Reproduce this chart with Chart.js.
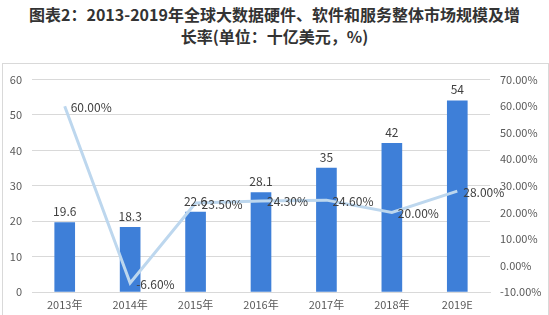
<!DOCTYPE html>
<html>
<head>
<meta charset="utf-8">
<script src="https://cdn.jsdelivr.net/npm/chart.js@4"></script>
<style>
  html, body { margin: 0; padding: 0; background: #fff; }
  #wrap { width: 549px; height: 315px; position: relative; overflow: hidden; }
  #title {
    position: absolute; left: 0; top: 3px; width: 549px; text-align: center;
    font-family: "Noto Sans CJK SC", sans-serif; font-weight: bold; font-size: 16px;
    line-height: 22px; color: #333;
  }
  #box { position: absolute; left: 2px; top: 63px; width: 545px; height: 260px; border: 1px solid #d9d9d9; }
  #cv { position: absolute; left: 0; top: 63px; }
</style>
</head>
<body>
<div id="wrap">
  <div id="title">图表2：2013-2019年全球大数据硬件、软件和服务整体市场规模及增<br>长率(单位：十亿美元，%)</div>
  <div id="box"></div>
  <canvas id="cv" width="549" height="252"></canvas>
</div>
<script>
// 数据
const years = ['2013年', '2014年', '2015年', '2016年', '2017年', '2018年', '2019E'];
const marketSize = [19.6, 18.3, 22.6, 28.1, 35, 42, 54];
const growthRate = [60.0, -6.6, 23.5, 24.3, 24.6, 20.0, 28.0];

const fontFamily = '"Noto Sans CJK SC", "Microsoft YaHei", sans-serif';
const textColor = '#404040';

// label di atas bar / kanan titik garis
const labelPlugin = {
    id: 'valueLabels',
    afterDatasetsDraw(chart) {
        const ctx = chart.ctx;
        ctx.save();
        ctx.font = '12px ' + fontFamily;
        ctx.fillStyle = textColor;
        chart.getDatasetMeta(0).data.forEach((bar, i) => {
            ctx.textAlign = 'center';
            ctx.textBaseline = 'bottom';
            ctx.fillText(String(marketSize[i]), bar.x, bar.y - 5);
        });
        chart.getDatasetMeta(1).data.forEach((pt, i) => {
            ctx.textAlign = 'left';
            ctx.textBaseline = 'middle';
            ctx.fillText(growthRate[i].toFixed(2) + '%', pt.x + 6, pt.y + 1);
        });
        ctx.restore();
    }
};

new Chart(document.getElementById('cv'), {
    data: {
        labels: years,
        datasets: [
            {
                type: 'line',
                data: growthRate,
                yAxisID: 'y1',
                borderColor: '#bdd7ee',
                borderWidth: 3,
                pointRadius: 0,
                tension: 0,
                order: 0
            },
            {
                type: 'bar',
                data: marketSize,
                yAxisID: 'y',
                backgroundColor: '#3e7fd8',
                barThickness: 20,
                order: 1
            }
        ].reverse()
    },
    options: {
        responsive: false,
        animation: false,
        layout: { padding: { top: 15, left: 0, right: 0, bottom: 0 } },
        plugins: { legend: { display: false }, tooltip: { enabled: false } },
        scales: {
            x: {
                grid: { display: false, drawTicks: false },
                border: { color: '#d9d9d9' },
                ticks: { color: '#595959', font: { size: 11, family: fontFamily }, padding: 6 },
                afterFit: s => { s.height = 23; }
            },
            y: {
                position: 'left',
                min: 0, max: 60,
                ticks: { stepSize: 10, color: '#595959', font: { size: 11, family: fontFamily }, padding: 10 },
                grid: { color: '#d9d9d9', drawTicks: false },
                border: { display: false },
                afterFit: s => { s.width = 32; }
            },
            y1: {
                position: 'right',
                min: -10, max: 70,
                ticks: {
                    stepSize: 10, color: '#595959', font: { size: 11, family: fontFamily }, padding: 10,
                    callback: v => v.toFixed(2) + '%'
                },
                grid: { display: false, drawTicks: false },
                border: { display: false },
                afterFit: s => { s.width = 59; }
            }
        }
    },
    plugins: [labelPlugin]
});
</script>
</body>
</html>
